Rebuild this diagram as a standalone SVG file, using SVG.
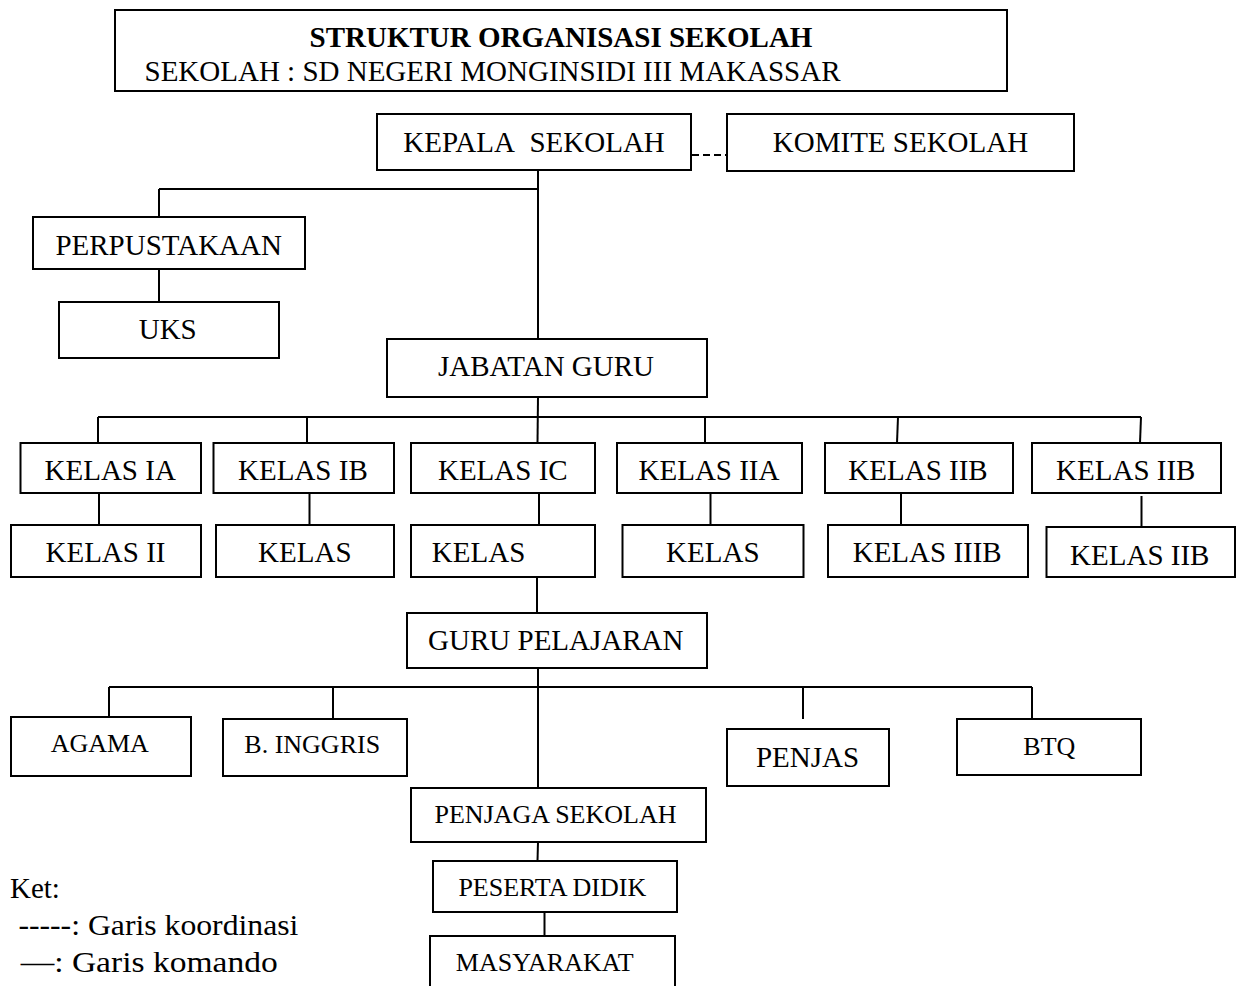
<svg xmlns="http://www.w3.org/2000/svg" width="1239" height="986" viewBox="0 0 1239 986">
<style>
  .box { fill: #ffffff; stroke: #000000; stroke-width: 2; }
  .ln { stroke: #000000; stroke-width: 2; fill: none; }
  .dash { stroke: #000000; stroke-width: 2; fill: none; stroke-dasharray: 7 4; }
  text { font-family: "Liberation Serif", "Times New Roman", serif; fill: #000000; }
  .t { font-size: 29px; text-anchor: middle; }
  .s { font-size: 26px; text-anchor: middle; }
  .b { font-weight: bold; }
  .leg { font-size: 29px; }
</style>
<rect width="1239" height="986" fill="#ffffff"/>

<g id="connectors">
  <line class="dash" x1="692" y1="155" x2="727" y2="155"/>
  <line class="ln" x1="538" y1="170" x2="538" y2="339"/>
  <line class="ln" x1="159" y1="189" x2="538" y2="189"/>
  <line class="ln" x1="159" y1="189" x2="159" y2="217"/>
  <line class="ln" x1="159" y1="269" x2="159" y2="302"/>
  <line class="ln" x1="538" y1="397" x2="537.5" y2="443"/>
  <line class="ln" x1="98" y1="417" x2="1141" y2="417"/>
  <line class="ln" x1="98" y1="417" x2="98" y2="443"/>
  <line class="ln" x1="307" y1="417" x2="307" y2="443"/>
  <line class="ln" x1="705" y1="417" x2="705" y2="443"/>
  <line class="ln" x1="898" y1="417" x2="897" y2="443"/>
  <line class="ln" x1="1141" y1="417" x2="1140" y2="443"/>
  <line class="ln" x1="99" y1="493" x2="99" y2="525"/>
  <line class="ln" x1="309.5" y1="493" x2="309.5" y2="525"/>
  <line class="ln" x1="539" y1="493" x2="539" y2="525"/>
  <line class="ln" x1="710.5" y1="493" x2="710.5" y2="525"/>
  <line class="ln" x1="901" y1="493" x2="901" y2="525"/>
  <line class="ln" x1="1141.5" y1="496" x2="1141.5" y2="527"/>
  <line class="ln" x1="537" y1="577" x2="537" y2="613"/>
  <line class="ln" x1="538" y1="668" x2="538" y2="788"/>
  <line class="ln" x1="109" y1="687" x2="1032" y2="687"/>
  <line class="ln" x1="109" y1="687" x2="109" y2="717"/>
  <line class="ln" x1="333" y1="687" x2="333" y2="719"/>
  <line class="ln" x1="803" y1="687" x2="803" y2="719"/>
  <line class="ln" x1="1032" y1="687" x2="1032" y2="719"/>
  <line class="ln" x1="538" y1="842" x2="537.5" y2="861"/>
  <line class="ln" x1="544.5" y1="912" x2="544.5" y2="936"/>
</g>

<g id="title">
  <rect class="box" x="115" y="10" width="892" height="81"/>
  <text class="t b" x="561" y="47">STRUKTUR ORGANISASI SEKOLAH</text>
  <text class="t" x="492.5" y="80.5">SEKOLAH : SD NEGERI MONGINSIDI III MAKASSAR</text>
</g>

<g id="kepala-sekolah">
  <rect class="box" x="377" y="114" width="314" height="56"/>
  <text class="t" x="534" y="151.5">KEPALA&#160; SEKOLAH</text>
</g>
<g id="komite-sekolah">
  <rect class="box" x="727" y="114" width="347" height="57"/>
  <text class="t" x="900.5" y="151.5">KOMITE SEKOLAH</text>
</g>
<g id="perpustakaan">
  <rect class="box" x="33" y="217" width="272" height="52"/>
  <text class="t" x="168.7" y="255">PERPUSTAKAAN</text>
</g>
<g id="uks">
  <rect class="box" x="59" y="302" width="220" height="56"/>
  <text class="t" x="167.7" y="339">UKS</text>
</g>
<g id="jabatan-guru">
  <rect class="box" x="387" y="339" width="320" height="58"/>
  <text class="t" x="546" y="376">JABATAN GURU</text>
</g>

<g id="kelas-ia">
  <rect class="box" x="20.5" y="443" width="180.5" height="50"/>
  <text class="t" x="110.2" y="480">KELAS IA</text>
</g>
<g id="kelas-ib">
  <rect class="box" x="213.5" y="443" width="180.5" height="50"/>
  <text class="t" x="302.9" y="480">KELAS IB</text>
</g>
<g id="kelas-ic">
  <rect class="box" x="411" y="443" width="184" height="50"/>
  <text class="t" x="502.8" y="480">KELAS IC</text>
</g>
<g id="kelas-iia">
  <rect class="box" x="617" y="443" width="185" height="50"/>
  <text class="t" x="709" y="480">KELAS IIA</text>
</g>
<g id="kelas-iib-1">
  <rect class="box" x="825" y="443" width="188" height="50"/>
  <text class="t" x="918" y="480">KELAS IIB</text>
</g>
<g id="kelas-iib-2">
  <rect class="box" x="1032" y="443" width="189" height="50"/>
  <text class="t" x="1125.8" y="480">KELAS IIB</text>
</g>

<g id="kelas-ii">
  <rect class="box" x="11" y="525" width="190" height="52"/>
  <text class="t" x="105.5" y="561.7">KELAS II</text>
</g>
<g id="kelas-b">
  <rect class="box" x="216" y="525" width="178" height="52"/>
  <text class="t" x="304.8" y="561.7">KELAS</text>
</g>
<g id="kelas-c">
  <rect class="box" x="411" y="525" width="184" height="52"/>
  <text class="t" x="478.6" y="561.7">KELAS</text>
</g>
<g id="kelas-d">
  <rect class="box" x="622.5" y="525" width="181" height="52"/>
  <text class="t" x="712.8" y="561.7">KELAS</text>
</g>
<g id="kelas-iiib">
  <rect class="box" x="828" y="525" width="200" height="52"/>
  <text class="t" x="927.2" y="561.7">KELAS IIIB</text>
</g>
<g id="kelas-iib-3">
  <rect class="box" x="1046.5" y="527" width="188.5" height="50"/>
  <text class="t" x="1139.8" y="565">KELAS IIB</text>
</g>

<g id="guru-pelajaran">
  <rect class="box" x="407" y="613" width="300" height="55"/>
  <text class="t" x="555.8" y="650">GURU PELAJARAN</text>
</g>
<g id="agama">
  <rect class="box" x="11" y="717" width="180" height="59"/>
  <text class="s" x="99.8" y="751.7">AGAMA</text>
</g>
<g id="b-inggris">
  <rect class="box" x="223" y="719" width="184" height="57"/>
  <text class="s" x="312.2" y="753.3">B. INGGRIS</text>
</g>
<g id="penjas">
  <rect class="box" x="727" y="729" width="162" height="57"/>
  <text class="t" x="807.5" y="767.3">PENJAS</text>
</g>
<g id="btq">
  <rect class="box" x="957" y="719" width="184" height="56"/>
  <text class="s" x="1049.3" y="755">BTQ</text>
</g>
<g id="penjaga-sekolah">
  <rect class="box" x="411" y="788" width="295" height="54"/>
  <text class="s" x="555.5" y="822.7">PENJAGA SEKOLAH</text>
</g>
<g id="peserta-didik">
  <rect class="box" x="433" y="861" width="244" height="51"/>
  <text class="s" x="552.3" y="895.7">PESERTA DIDIK</text>
</g>
<g id="masyarakat">
  <rect class="box" x="430" y="936" width="245" height="60"/>
  <text class="s" x="544.7" y="971">MASYARAKAT</text>
</g>

<g id="legend">
  <text class="leg" x="10" y="898">Ket:</text>
  <text class="leg" x="18.4" y="935" textLength="280" lengthAdjust="spacingAndGlyphs">-----: Garis koordinasi</text>
  <text class="leg" x="20.7" y="971.7" textLength="257" lengthAdjust="spacingAndGlyphs">—: Garis komando</text>
</g>
</svg>
